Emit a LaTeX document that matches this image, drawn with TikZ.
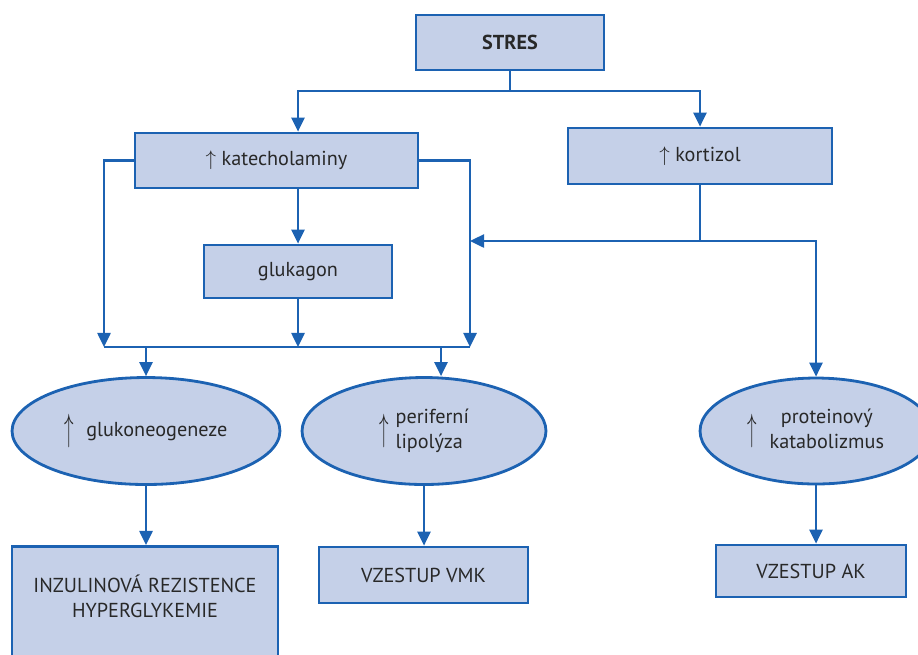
\documentclass[tikz,border=0pt]{standalone}
\usepackage{fontspec}
\setmainfont{PT Sans}
\usetikzlibrary{arrows.meta,positioning,calc,shapes.geometric}
\definecolor{boxfill}{RGB}{197,208,232}
\definecolor{boxline}{RGB}{28,98,178}
\definecolor{txt}{RGB}{40,40,40}
\newcommand{\tallup}{\raisebox{-0.22em}{\scalebox{0.9}[1.8]{$\uparrow$}}}

\begin{document}
\begin{tikzpicture}[x=0.02cm, y=-0.02cm, >={Triangle[length=8pt,width=7.5pt]},
    line width=1.2pt, draw=boxline,
    box/.style={draw=boxline, fill=boxfill, line width=1.6pt, text=txt,
      inner sep=0pt, font=\fontsize{11.5}{14}\selectfont},
    oval/.style={box, ellipse},
    link/.style={draw=boxline, line width=1.2pt}]
  \useasboundingbox (0,0) rectangle (918,654);
  \clip (0,0) rectangle (918,654);

  \node[box, minimum width=3.76cm, minimum height=1.1cm] (stres) at (510,42.5) {\textbf{STRES}};
  \node[box, minimum width=5.66cm, minimum height=1.1cm] (kat) at (276.5,160.5) {$\uparrow$ katecholaminy};
  \node[box, minimum width=5.28cm, minimum height=1.12cm] (kort) at (700,156) {$\uparrow$ kortizol};
  \node[box, minimum width=3.76cm, minimum height=1.06cm] (glukagon) at (298,271.5) {glukagon};

  \node[oval, minimum width=5.36cm, minimum height=2.14cm] (gluk) at (146,431)
    {\tallup\hspace{0.6em}glukoneogeneze};
  \node[oval, minimum width=4.88cm, minimum height=2.14cm] (lipo) at (424,431)
    {\tallup\hspace{0.35em}\begin{tabular}{@{}l@{}}periferní\\lipolýza\end{tabular}};
  \node[oval, minimum width=4.64cm, minimum height=2.12cm] (prot) at (816,431)
    {\tallup\hspace{0.6em}\begin{tabular}{@{}c@{}}proteinový\\katabolizmus\end{tabular}};

  \node[box, minimum width=5.32cm, minimum height=2.6cm, anchor=north] (inz) at (145,545)
    {\raisebox{0.85cm}{\begin{tabular}{@{}c@{}}INZULINOVÁ REZISTENCE\\HYPERGLYKEMIE\end{tabular}}};
  \node[box, minimum width=4.18cm, minimum height=1.12cm] (vmk) at (423.5,575) {VZESTUP VMK};
  \node[box, minimum width=3.8cm, minimum height=1.04cm] (ak) at (811,571) {VZESTUP AK};

  % junctions
  \coordinate (top) at (510,91);
  \coordinate (bl) at (104,347);
  \coordinate (br) at (470,347);
  \coordinate (kj) at (700,241);
  \coordinate (lj) at (441,347);

  \draw[link] (stres.south) -- (top);
  \draw[link,->] (top) -| (glukagon.north |- kat.north);
  \draw[link,->] (top) -| (kort.north);
  \draw[link,->] (kat.west) -| (bl);
  \draw[link,->] (kat.east) -| (br);
  \draw[link,->] (glukagon |- kat.south) -- (glukagon.north);
  \draw[link,->] (glukagon.south) -- (glukagon |- bl);
  \draw[link] (bl) -- (br);

  \draw[link] (kort.south) -- (kj);
  \draw[link,->] (kj) -- (br |- kj);
  \draw[link,->] (kj) -| (prot.north);

  \draw[link,->] (gluk.north |- bl) -- (gluk.north);
  \draw[link,->] (lj) -- (lj |- lipo.north);

  \draw[link,->] (gluk.south) -- (gluk.south |- inz.north);
  \draw[link,->] (lipo.south) -- (lipo.south |- vmk.north);
  \draw[link,->] (prot.south) -- (prot.south |- ak.north);
\end{tikzpicture}
\end{document}
